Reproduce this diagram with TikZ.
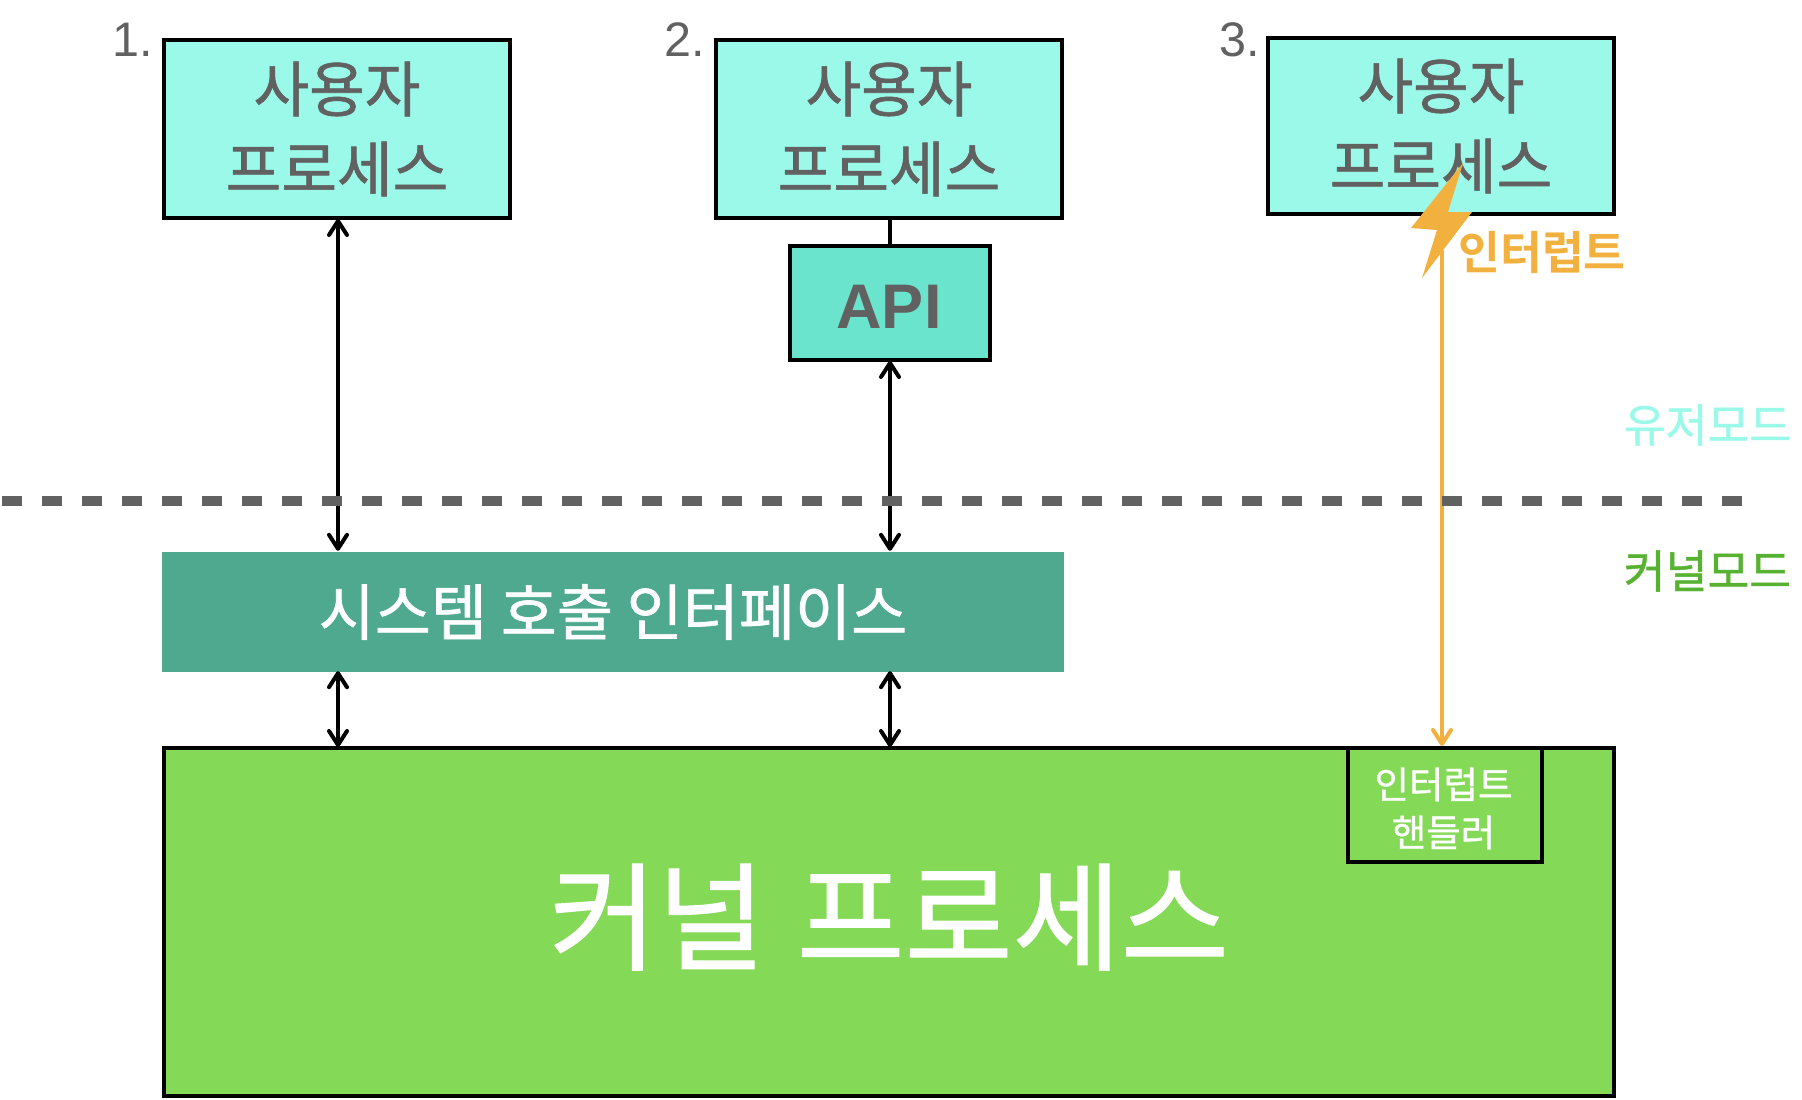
\documentclass[tikz,border=0pt]{standalone}
\usepackage{fontspec}
\usetikzlibrary{arrows.meta}
\setmainfont{Liberation Sans}
\newfontfamily\kr{Noto Sans CJK KR}[BoldFont={Noto Sans CJK KR},BoldFeatures={FakeBold=1.0}]
\newfontfamily\krb{Noto Sans CJK KR Bold}
\definecolor{aqua}{HTML}{9AF9E8}
\definecolor{apifill}{HTML}{6BE4CD}
\definecolor{ifacefill}{HTML}{4EA98F}
\definecolor{kernfill}{HTML}{84D957}
\definecolor{inkgray}{HTML}{616161}
\definecolor{zap}{HTML}{F2B13E}
\definecolor{kernlabel}{HTML}{57B231}
\newcommand{\fs}[2]{\fontsize{#1}{#2}\selectfont}
\tikzset{
  x=1pt,y=-1pt,
  boxed/.style={draw=black,line width=4pt,inner sep=0pt,align=center,text=inkgray},
  procbox/.style={boxed,fill=aqua,minimum width=346pt,minimum height=178pt,font=\kr\bfseries\fs{60.5}{80}},
  apibox/.style={boxed,fill=apifill,minimum width=200pt,minimum height=114pt,font=\fs{63}{70}\bfseries},
  ifacebox/.style={inner sep=0pt,fill=ifacefill,minimum width=902pt,minimum height=120pt,text=white,font=\kr\bfseries\fs{61}{70}},
  kernbox/.style={boxed,fill=kernfill,minimum width=1450pt,minimum height=348pt,text=white,font=\kr\bfseries\fs{117.5}{130}},
  handlerbox/.style={boxed,fill=kernfill,minimum width=194pt,minimum height=114pt,text=white,font=\kr\bfseries\fs{37.5}{48}},
  numlabel/.style={inner sep=0pt,anchor=base west,text=inkgray,font=\fs{48.5}{50}},
  modelabel/.style={inner sep=0pt,anchor=base,font=\kr\bfseries\fs{45.5}{50}},
  zaplabel/.style={inner sep=0pt,anchor=base,text=zap,font=\krb\fs{45.5}{50}},
  biarrow/.style={draw=black,line width=4pt,{Straight Barb[length=14pt,width=18pt,round]}-{Straight Barb[length=14pt,width=18pt,round]},shorten <=-1pt,shorten >=-1pt},
  zaparrow/.style={draw=zap,line width=4pt,-{Straight Barb[length=14pt,width=18pt,round]},shorten >=0pt},
  modeline/.style={draw=inkgray,line width=10pt,dash pattern=on 20pt off 20pt}
}
\begin{document}
\begin{tikzpicture}
\useasboundingbox (0,0) rectangle (1802,1100);
% boxes
\node[procbox] (u1) at (337,129) {사용자\\프로세스};
\node[procbox] (u2) at (889,129) {사용자\\프로세스};
\node[procbox,minimum height=176pt] (u3) at (1441,126) {사용자\\프로세스};
\node[apibox] (api) at (890,303) {\raisebox{-25pt}[0pt][0pt]{\hspace{-2pt}API}};
\node[ifacebox] (iface) at (613,612) {시스템 호출 인터페이스};
\node[kernbox] (kern) at (889,922) {\raisebox{19pt}{커널\hspace{5pt} 프로세스}};
\node[handlerbox] (handler) at (1445,805) {\rule{0pt}{35pt}\raisebox{-3pt}{\hspace{-3pt}인터럽트}\\\raisebox{-3pt}{\hspace{-3pt}핸들러}};
% numbers
\node[numlabel] (n1) at (112,56) {1.};
\node[numlabel] (n2) at (664,56) {2.};
\node[numlabel] (n3) at (1219,56) {3.};
% mode labels
\node[modelabel,text=aqua] (mu) at (1707.5,442) {유저모드};
\node[modelabel,text=kernlabel] (mk) at (1707.5,588) {커널모드};
% connectors
\draw[draw=black,line width=4pt] (u2.south -| api.north) -- (api.north);
\draw[biarrow,shorten >=1pt] ([xshift=1pt]u1.south) -- ([xshift=1pt]u1.south |- iface.north);
\draw[biarrow,shorten >=1pt] (api.south) -- (api.south |- iface.north);
\draw[biarrow] ([xshift=1pt]u1.south |- iface.south) -- ([xshift=1pt]u1.south |- kern.north);
\draw[biarrow] (api.south |- iface.south) -- (api.south |- kern.north);
% interrupt
\coordinate (zapfoot) at (1442,250);
\draw[zaparrow] (zapfoot) -- (zapfoot |- kern.north);
\fill[zap] (1463,163) -- (1448,212) -- (1472,212) -- (1422,278) -- (1437,230) -- (1411,228) -- cycle;
\node[zaplabel] (zl) at (1542,269) {인터럽트};
% mode divider
\coordinate (divL) at (2,501);
\coordinate (divR) at (1742,501);
\draw[modeline] (divL) -- (divR);
\end{tikzpicture}
\end{document}
